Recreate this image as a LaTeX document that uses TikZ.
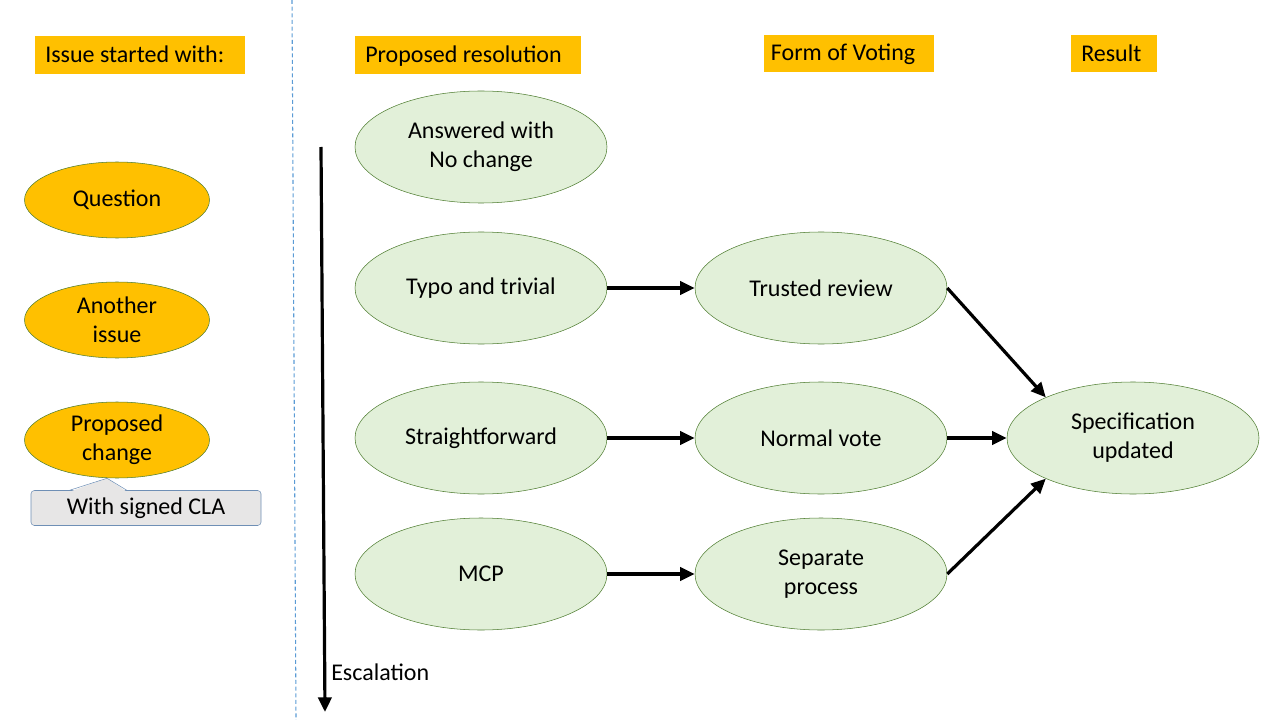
\documentclass[tikz,border=0pt]{standalone}
\usepackage{fontspec}
\setmainfont{Carlito}
\usepackage{tikz}
\usetikzlibrary{shapes.geometric,arrows.meta,calc}
\definecolor{hdrcol}{HTML}{FFC000}
\definecolor{resfill}{HTML}{E2F0D9}
\definecolor{resline}{HTML}{507E32}
\definecolor{clafill}{HTML}{E7E6E6}
\definecolor{claline}{HTML}{6F8FB5}
\definecolor{divcol}{HTML}{5B9BD5}
\tikzstyle{header}=[fill=hdrcol,minimum height=28.5pt,inner ysep=0pt,inner xsep=7.5pt,
                    anchor=west,align=flush left,text depth=0.25ex]
\tikzstyle{issue}=[ellipse,draw=resline,thin,fill=hdrcol,minimum width=138.75pt,
                   minimum height=57pt,inner sep=0pt,align=center]
\tikzstyle{resol}=[ellipse,draw=resline,thin,fill=resfill,minimum width=189pt,
                   minimum height=84pt,inner sep=0pt,align=center]
\tikzstyle{cla}=[rectangle,draw=claline,thin,fill=clafill,rounded corners=2.5pt,
                 minimum width=172.5pt,minimum height=26.25pt,inner sep=0pt]
\tikzstyle{flow}=[-{Triangle[length=11pt,width=10pt]},line width=2.4pt]
\tikzset{
  divider/.style={draw=divcol,line width=0.8pt,dash pattern=on 3pt off 2pt}}

\begin{document}
\begin{tikzpicture}[x=0.75pt,y=-0.75pt,font=\fontsize{18}{21.75}\selectfont]
  \useasboundingbox (0,0) rectangle (1280,720);

  % DIVIDER
  \coordinate (dtop) at (292,0);
  \coordinate (dbot) at (296,720);
  \draw[divider] (dtop) -- (dbot);

  % HEADERS
  \node[header,text width=142.5pt] (hissue) at (35,55) {Issue started with:};
  \node[header,text width=154.5pt] (hresol) at (355,55) {Proposed resolution};
  \node[header,text width=117.5pt,inner xsep=5pt,minimum height=27.75pt] (hvote) at (764,53.5) {Form of Voting};
  \node[header,text width=49.5pt,minimum height=27.75pt] (hres) at (1071,53.5) {Result};

  % ISSUES
  \node[issue] (question) at (117,200) {Question};
  \node[issue] (another) at (117,320) {Another\\issue};
  \node[issue] (change) at (117,440) {Proposed\\change};
  \node[cla] (signed) at (146,508) {With signed CLA};
  \fill[clafill] ($(signed.north west)+(39,1.5)$) -- ($(change.south)+(-10,0)$)
    -- ($(signed.north west)+(96,1.5)$) -- cycle;
  \draw[claline,thin] ($(signed.north west)+(39,0)$) -- ($(change.south)+(-10,0)$)
    -- ($(signed.north west)+(96,0)$);

  % RESOLUTIONS
  \node[resol] (nochange) at (481,147) {Answered with\\No change};
  \node[resol] (typo) at (481,288) {Typo and trivial};
  \node[resol] (straight) at (481,438) {Straightforward};
  \node[resol] (mcp) at (481,574) {MCP};

  % VOTING
  \node[resol] (trusted) at (821,288) {Trusted review};
  \node[resol] (normal) at (821,438) {Normal vote};
  \node[resol] (separate) at (821,574) {Separate\\process};

  % RESULT
  \node[resol] (spec) at (1133,438) {Specification\\updated};

  % ESCALATION
  \coordinate (etop) at (321,147);
  \coordinate (ebot) at (325,712);
  \draw[flow] (etop) -- (ebot);
  \node[anchor=west,inner sep=0pt] (esc) at (331,672) {Escalation};

  % ARROWS
  \draw[flow] (typo.east) -- (trusted.west);
  \draw[flow] (straight.east) -- (normal.west);
  \draw[flow] (mcp.east) -- (separate.west);
  \draw[flow] (trusted.east) -- (spec.155);
  \draw[flow] (normal.east) -- (spec.west);
  \draw[flow] (separate.east) -- (spec.205);

\end{tikzpicture}
\end{document}
